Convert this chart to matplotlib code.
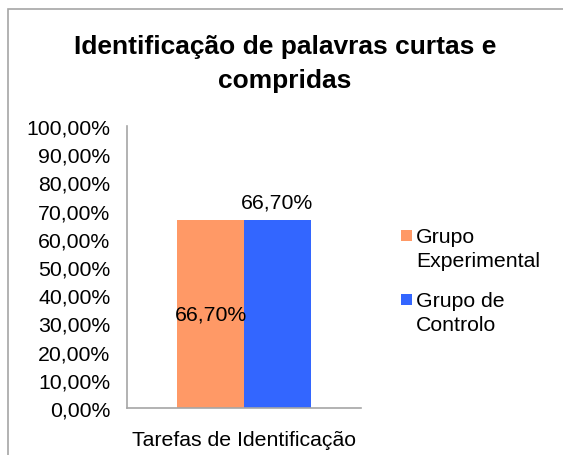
import matplotlib
matplotlib.use("Agg")
import matplotlib.pyplot as plt
from matplotlib.patches import Rectangle
from matplotlib.ticker import FuncFormatter

plt.rcParams['font.family'] = ['Liberation Sans', 'DejaVu Sans']

title = "Identificação de palavras curtas e\ncompridas"
category = "Tarefas de Identificação"
series = ["Grupo\nExperimental", "Grupo de\nControlo"]
values = [66.70, 66.70]
colors = ["#FF9966", "#3366FF"]
yticks = [0, 10, 20, 30, 40, 50, 60, 70, 80, 90, 100]

W, H = 563, 456
FS = 15.3
fig = plt.figure(figsize=(W / 100, H / 100), dpi=100)

# outer border
fig.patches.append(Rectangle((8 / W, -0.1), 1.2, (H - 10) / H + 0.1,
                             transform=fig.transFigure, fill=False,
                             edgecolor="#A6A6A6", linewidth=1.2))

ax = fig.add_axes([127 / W, (H - 409) / H, (361 - 127) / W, (409 - 127) / H])
bw = 0.285
xs = [-bw / 2, bw / 2]
for x, v, c, s in zip(xs, values, colors, series):
    ax.bar(x, v, width=bw, color=c, label=s)
ax.set_xlim(-0.5, 0.5)
ax.set_ylim(0, 100)
ax.set_yticks(yticks)
ax.yaxis.set_major_formatter(FuncFormatter(lambda v, p: f"{v:.2f}%".replace(".", ",")))
ax.set_xticks([0])
ax.set_xticklabels([category])
ax.tick_params(axis='both', length=0, labelsize=FS)
ax.tick_params(axis='y', pad=12)
ax.tick_params(axis='x', pad=16)
for sp in ["top", "right"]:
    ax.spines[sp].set_visible(False)
for sp in ["left", "bottom"]:
    ax.spines[sp].set_color("#A6A6A6")
    ax.spines[sp].set_linewidth(1.2)

# data labels
ax.text(xs[0], values[0] / 2, f"{values[0]:.2f}%".replace(".", ","),
        ha="center", va="center", fontsize=FS)
ax.text(xs[1], values[1] + 3, f"{values[1]:.2f}%".replace(".", ","),
        ha="center", va="bottom", fontsize=FS)

fig.text(285 / W, 1 - 64 / H, title, ha="center", va="center",
         fontsize=19, fontweight="bold", linespacing=1.48)

# legend (marker aligned with first line of each label)
entry_tops = [236, 300]
for top, s, c in zip(entry_tops, series, colors):
    fig.patches.append(Rectangle((401 / W, 1 - (top + 5.5) / H), 11 / W, 11 / H,
                                 transform=fig.transFigure, facecolor=c,
                                 edgecolor="none"))
    fig.text(416 / W, 1 - (top + 13.5) / H, s, ha="left", va="center",
             fontsize=FS, linespacing=1.36)

fig.savefig("out.png", dpi=100)
